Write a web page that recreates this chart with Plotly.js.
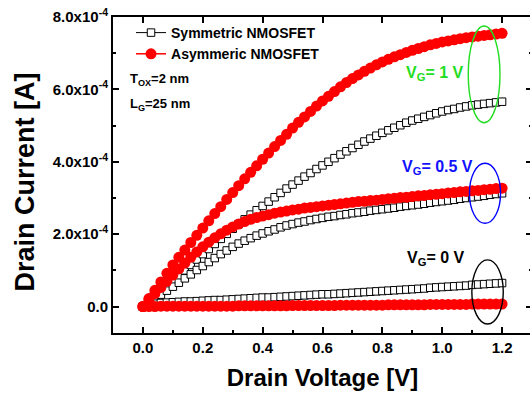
<!DOCTYPE html>
<html>
<head>
<meta charset="utf-8">
<script src="https://cdn.plot.ly/plotly-3.0.1.min.js"></script>
<style>
html,body{margin:0;padding:0;overflow:hidden;background:#fff;width:530px;height:396px;}
#chart{width:533px;height:396px;}
</style>
</head>
<body>
<div id="chart"></div>
<script>
// Drain voltage [V]
const drainVoltage = [0,0.02,0.04,0.06,0.08,0.1,0.12,0.14,0.16,0.18,
  0.2,0.22,0.24,0.26,0.28,0.3,0.32,0.34,0.36,0.38,
  0.4,0.42,0.44,0.46,0.48,0.5,0.52,0.54,0.56,0.58,
  0.6,0.62,0.64,0.66,0.68,0.7,0.72,0.74,0.76,0.78,
  0.8,0.82,0.84,0.86,0.88,0.9,0.92,0.94,0.96,0.98,
  1.0,1.02,1.04,1.06,1.08,1.1,1.12,1.14,1.16,1.18,
  1.2];

// Drain current in units of 1e-4 A
const symVG1 = [0,0.13,0.27,0.41,0.55,0.70,0.85,1.00,1.15,1.30,
  1.45,1.59,1.73,1.87,2.01,2.15,2.28,2.41,2.54,2.66,
  2.78,2.90,3.02,3.14,3.26,3.37,3.48,3.59,3.69,3.80,
  3.90,4.00,4.10,4.20,4.29,4.38,4.47,4.56,4.64,4.72,
  4.80,4.87,4.94,5.01,5.08,5.14,5.19,5.24,5.29,5.34,
  5.39,5.43,5.46,5.50,5.53,5.56,5.58,5.60,5.62,5.64,
  5.66];
const symVG05 = [0,0.11,0.22,0.33,0.44,0.55,0.66,0.78,0.89,1.01,
  1.12,1.23,1.34,1.45,1.55,1.65,1.74,1.82,1.89,1.96,
  2.02,2.08,2.13,2.19,2.24,2.28,2.32,2.35,2.39,2.42,
  2.45,2.48,2.50,2.53,2.55,2.58,2.60,2.62,2.65,2.67,
  2.69,2.71,2.73,2.76,2.78,2.80,2.82,2.84,2.87,2.89,
  2.91,2.93,2.95,2.98,3.00,3.02,3.04,3.06,3.09,3.11,
  3.13];
const symVG0 = [0,0.05,0.08,0.10,0.11,0.12,0.13,0.14,0.14,0.15,
  0.16,0.17,0.18,0.18,0.19,0.20,0.21,0.22,0.23,0.24,
  0.25,0.25,0.26,0.27,0.28,0.29,0.30,0.31,0.32,0.33,
  0.34,0.34,0.35,0.36,0.37,0.38,0.39,0.40,0.41,0.42,
  0.43,0.44,0.45,0.46,0.47,0.48,0.49,0.50,0.52,0.53,
  0.54,0.55,0.56,0.57,0.58,0.60,0.61,0.62,0.63,0.64,
  0.65];
const asymVG1 = [0,0.22,0.45,0.68,0.92,1.15,1.36,1.56,1.77,1.97,
  2.17,2.37,2.57,2.76,2.96,3.15,3.34,3.53,3.71,3.89,
  4.07,4.24,4.42,4.59,4.76,4.93,5.09,5.24,5.39,5.54,
  5.68,5.81,5.94,6.07,6.19,6.30,6.40,6.50,6.59,6.68,
  6.76,6.83,6.90,6.96,7.02,7.08,7.13,7.18,7.23,7.27,
  7.31,7.34,7.37,7.40,7.43,7.45,7.47,7.49,7.51,7.53,
  7.55];
const asymVG05 = [0,0.18,0.36,0.53,0.70,0.87,1.04,1.20,1.36,1.51,
  1.65,1.78,1.90,2.01,2.11,2.20,2.28,2.35,2.41,2.46,
  2.50,2.54,2.58,2.61,2.64,2.67,2.69,2.72,2.74,2.76,
  2.78,2.80,2.82,2.84,2.86,2.88,2.90,2.91,2.93,2.94,
  2.96,2.98,2.99,3.01,3.02,3.04,3.06,3.07,3.09,3.10,
  3.12,3.14,3.15,3.17,3.18,3.20,3.21,3.23,3.24,3.26,
  3.27];
const asymVG0 = [0,0,0,0.01,0.01,0.01,0.01,0.01,0.01,0.01,
  0.01,0.01,0.01,0.01,0.01,0.01,0.02,0.02,0.02,0.02,
  0.02,0.02,0.02,0.02,0.02,0.03,0.03,0.03,0.03,0.03,
  0.03,0.03,0.03,0.04,0.04,0.04,0.04,0.04,0.04,0.04,
  0.04,0.05,0.05,0.05,0.05,0.05,0.05,0.05,0.06,0.06,
  0.06,0.06,0.06,0.06,0.06,0.07,0.07,0.07,0.07,0.07,
  0.07];

const seriesNames = ["<b>Symmetric NMOSFET</b>", "<b>Asymmeric NMOSFET</b>"];
const yTickVals = [0, 2, 4, 6, 8];
const yTickText = ["<b>0.0</b>", "<b>2.0x10<sup>-4</sup></b>", "<b>4.0x10<sup>-4</sup></b>", "<b>6.0x10<sup>-4</sup></b>", "<b>8.0x10<sup>-4</sup></b>"];
const xTickVals = [0, 0.2, 0.4, 0.6, 0.8, 1.0, 1.2];
const xTickText = ["<b>0.0</b>", "<b>0.2</b>", "<b>0.4</b>", "<b>0.6</b>", "<b>0.8</b>", "<b>1.0</b>", "<b>1.2</b>"];

const FONT = "Arial, 'Liberation Sans', sans-serif";

function symTrace(y, show) {
  return {
    x: drainVoltage, y: y, type: "scatter", mode: "lines+markers",
    name: seriesNames[0], showlegend: show, legendgroup: "sym",
    line: {color: "#000", width: 1},
    marker: {symbol: "square", size: 7.5, color: "#fff", line: {color: "#000", width: 1}}
  };
}
function asymTrace(y, show) {
  return {
    x: drainVoltage, y: y, type: "scatter", mode: "lines+markers",
    name: seriesNames[1], showlegend: show, legendgroup: "asym",
    line: {color: "#ff0000", width: 1.5},
    marker: {symbol: "circle", size: 11, color: "#ff0000"}
  };
}

const data = [
  symTrace(symVG1, true), symTrace(symVG05, false), symTrace(symVG0, false),
  asymTrace(asymVG1, true), asymTrace(asymVG05, false), asymTrace(asymVG0, false),
  {x: [], y: [], xaxis: "x2", yaxis: "y", type: "scatter", showlegend: false, hoverinfo: "skip"}
];

const layout = {
  width: 533, height: 396,
  margin: {l: 113, r: 1, t: 17, b: 63, autoexpand: false},
  paper_bgcolor: "#fff", plot_bgcolor: "#fff",
  font: {family: FONT, color: "#000"},
  showlegend: true,
  legend: {
    x: 0.043, y: 1.0, xanchor: "left", yanchor: "top",
    bgcolor: "rgba(0,0,0,0)", borderwidth: 0,
    font: {family: FONT, size: 14, weight: "bold", color: "#000"},
    tracegroupgap: 0, itemwidth: 30
  },
  xaxis: {
    range: [-0.1, 1.3], showgrid: false, zeroline: false, automargin: false,
    showline: true, linewidth: 2, linecolor: "#000", mirror: true,
    ticks: "inside", ticklen: 6, tickwidth: 2, tickcolor: "#000",
    tickvals: xTickVals, ticktext: xTickText,
    tickfont: {family: FONT, size: 15, weight: "bold"},
    minor: {ticks: "inside", ticklen: 3, tickwidth: 2, tickcolor: "#000", tickvals: [-0.1, 0.1, 0.3, 0.5, 0.7, 0.9, 1.1]},
    title: {text: "<b>Drain Voltage [V]</b>", font: {family: FONT, size: 24}, standoff: 14}
  },
  xaxis2: {
    overlaying: "x", side: "top", anchor: "y", matches: "x", automargin: false,
    range: [-0.1, 1.3], showgrid: false, zeroline: false, showline: false,
    ticks: "inside", ticklen: 6, tickwidth: 2, tickcolor: "#000",
    tickvals: xTickVals, showticklabels: false
  },
  yaxis: {
    range: [-0.73, 8], showgrid: false, zeroline: false, automargin: false,
    showline: true, linewidth: 2, linecolor: "#000", mirror: "ticks",
    ticks: "inside", ticklen: 6, tickwidth: 2, tickcolor: "#000",
    tickvals: yTickVals, ticktext: yTickText,
    tickfont: {family: FONT, size: 15, weight: "bold"},
    minor: {ticks: "inside", ticklen: 3, tickwidth: 2, tickcolor: "#000", tickvals: [1, 3, 5, 7]}
  },
  shapes: [
    {type: "circle", xref: "x", yref: "y", x0: 1.087, x1: 1.193, y0: 5.08, y1: 7.75, line: {color: "#22dd22", width: 1.4}},
    {type: "circle", xref: "x", yref: "y", x0: 1.091, x1: 1.195, y0: 2.30, y1: 3.96, line: {color: "#0000ff", width: 1.4}},
    {type: "circle", xref: "x", yref: "y", x0: 1.099, x1: 1.204, y0: -0.48, y1: 1.29, line: {color: "#000000", width: 1.4}}
  ],
  annotations: [
    {x: -0.21, y: 0.476, xref: "paper", yref: "paper", showarrow: false, xanchor: "center", yanchor: "middle",
     textangle: -90, text: "<b>Drain Current [A]</b>", font: {family: FONT, size: 27, color: "#000"}},
    {x: 0.976, y: 6.45, xref: "x", yref: "y", showarrow: false, xanchor: "center", yanchor: "middle",
     text: "<b>V<sub>G</sub>= 1 V</b>", font: {family: FONT, size: 16, color: "#22dd22"}},
    {x: 0.984, y: 3.83, xref: "x", yref: "y", showarrow: false, xanchor: "center", yanchor: "middle",
     text: "<b>V<sub>G</sub>= 0.5 V</b>", font: {family: FONT, size: 16, color: "#1111ff"}},
    {x: 0.978, y: 1.32, xref: "x", yref: "y", showarrow: false, xanchor: "center", yanchor: "middle",
     text: "<b>V<sub>G</sub>= 0 V</b>", font: {family: FONT, size: 16, color: "#000"}},
    {x: -0.05, y: 6.27, xref: "x", yref: "y", showarrow: false, xanchor: "left", yanchor: "middle",
     text: "<b>T<sub>OX</sub>=2 nm</b>", font: {family: FONT, size: 13, color: "#000"}},
    {x: -0.05, y: 5.58, xref: "x", yref: "y", showarrow: false, xanchor: "left", yanchor: "middle",
     text: "<b>L<sub>G</sub>=25 nm</b>", font: {family: FONT, size: 13, color: "#000"}}
  ]
};

Plotly.newPlot("chart", data, layout, {displayModeBar: false, staticPlot: true});
</script>
</body>
</html>
